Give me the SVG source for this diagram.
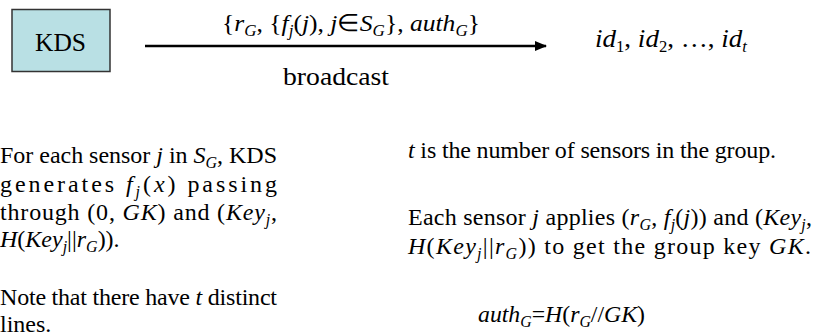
<svg xmlns="http://www.w3.org/2000/svg" width="816" height="336" viewBox="0 0 816 336">
<defs>
<marker id="ah" markerWidth="12" markerHeight="10" refX="11" refY="5" orient="auto" markerUnits="userSpaceOnUse">
<path d="M0,0 L12,5 L0,10 Z" fill="#000"/>
</marker>
</defs>
<rect width="816" height="336" fill="#fff"/>
<g id="kds">
<rect x="12" y="9.5" width="98" height="62" fill="#b9e0e4" stroke="#333" stroke-width="1.5"/>
<text x="35" y="51" textLength="51" lengthAdjust="spacingAndGlyphs" font-family="'Liberation Serif'" font-size="25">KDS</text>
</g>
<g id="receivers">
<text x="595" y="47" textLength="152" lengthAdjust="spacingAndGlyphs" font-family="'Liberation Serif'" font-size="26"><tspan font-style="italic">id</tspan><tspan font-size="16" dy="5">1</tspan><tspan dy="-5">, </tspan><tspan font-style="italic">id</tspan><tspan font-size="16" dy="5">2</tspan><tspan dy="-5">, &#8230;, </tspan><tspan font-style="italic">id</tspan><tspan font-size="16" font-style="italic" dy="5">t</tspan></text>
</g>
<g id="connectors">
<line x1="145" y1="46" x2="546" y2="46" stroke="#000" stroke-width="2.5" marker-end="url(#ah)"/>
<text x="222" y="31" textLength="258" lengthAdjust="spacingAndGlyphs" font-family="'Liberation Serif'" font-size="24">{<tspan font-style="italic">r</tspan><tspan font-size="16" font-style="italic" dy="5">G</tspan><tspan dy="-5">, {</tspan><tspan font-style="italic">f</tspan><tspan font-size="16" font-style="italic" dy="5">j</tspan><tspan dy="-5">(</tspan><tspan font-style="italic">j</tspan>), <tspan font-style="italic">j</tspan>&#8712;<tspan font-style="italic">S</tspan><tspan font-size="16" font-style="italic" dy="5">G</tspan><tspan dy="-5">}, </tspan><tspan font-style="italic">auth</tspan><tspan font-size="16" font-style="italic" dy="5">G</tspan><tspan dy="-5">}</tspan></text>
<text x="283" y="85" textLength="106" lengthAdjust="spacingAndGlyphs" font-family="'Liberation Serif'" font-size="26">broadcast</text>
</g>
<g id="left-text">
<text x="0" y="163" textLength="277" lengthAdjust="spacing" font-family="'Liberation Serif'" font-size="24">For each sensor <tspan font-style="italic">j</tspan> in <tspan font-style="italic">S</tspan><tspan font-size="16" font-style="italic" dy="5">G</tspan><tspan dy="-5">, KDS</tspan></text>
<text x="0" y="192" textLength="277" lengthAdjust="spacing" font-family="'Liberation Serif'" font-size="24">generates <tspan font-style="italic">f</tspan><tspan font-size="16" font-style="italic" dy="5">j</tspan><tspan dy="-5">(</tspan><tspan font-style="italic">x</tspan>) passing</text>
<text x="0" y="220" textLength="277" lengthAdjust="spacing" font-family="'Liberation Serif'" font-size="24">through (0, <tspan font-style="italic">GK</tspan>) and (<tspan font-style="italic">Key</tspan><tspan font-size="16" font-style="italic" dy="5">j</tspan><tspan dy="-5">,</tspan></text>
<text x="0" y="247" font-family="'Liberation Serif'" font-size="24"><tspan font-style="italic">H</tspan>(<tspan font-style="italic">Key</tspan><tspan font-size="16" font-style="italic" dy="5">j</tspan><tspan dy="-5">||</tspan><tspan font-style="italic">r</tspan><tspan font-size="16" font-style="italic" dy="5">G</tspan><tspan dy="-5">)).</tspan></text>
<text x="0" y="305" textLength="277" lengthAdjust="spacing" font-family="'Liberation Serif'" font-size="24">Note that there have <tspan font-style="italic">t</tspan> distinct</text>
<text x="0" y="332" font-family="'Liberation Serif'" font-size="24">lines.</text>
</g>
<g id="right-text">
<text x="408" y="158" textLength="368" lengthAdjust="spacing" font-family="'Liberation Serif'" font-size="24"><tspan font-style="italic">t</tspan> is the number of sensors in the group.</text>
<text x="408" y="225" textLength="404" lengthAdjust="spacing" font-family="'Liberation Serif'" font-size="24">Each sensor <tspan font-style="italic">j</tspan> applies (<tspan font-style="italic">r</tspan><tspan font-size="16" font-style="italic" dy="5">G</tspan><tspan dy="-5">, </tspan><tspan font-style="italic">f</tspan><tspan font-size="16" font-style="italic" dy="5">j</tspan><tspan dy="-5">(</tspan><tspan font-style="italic">j</tspan>)) and (<tspan font-style="italic">Key</tspan><tspan font-size="16" font-style="italic" dy="5">j</tspan><tspan dy="-5">,</tspan></text>
<text x="408" y="254" textLength="403" lengthAdjust="spacing" font-family="'Liberation Serif'" font-size="24"><tspan font-style="italic">H</tspan>(<tspan font-style="italic">Key</tspan><tspan font-size="16" font-style="italic" dy="5">j</tspan><tspan dy="-5">||</tspan><tspan font-style="italic">r</tspan><tspan font-size="16" font-style="italic" dy="5">G</tspan><tspan dy="-5">)) to get the group key </tspan><tspan font-style="italic">GK</tspan>.</text>
<text x="478" y="322" textLength="167" lengthAdjust="spacingAndGlyphs" font-family="'Liberation Serif'" font-size="24"><tspan font-style="italic">auth</tspan><tspan font-size="16" font-style="italic" dy="5">G</tspan><tspan dy="-5">=</tspan><tspan font-style="italic">H</tspan>(<tspan font-style="italic">r</tspan><tspan font-size="16" font-style="italic" dy="5">G</tspan><tspan dy="-5">//</tspan><tspan font-style="italic">GK</tspan>)</text>
</g>
</svg>
